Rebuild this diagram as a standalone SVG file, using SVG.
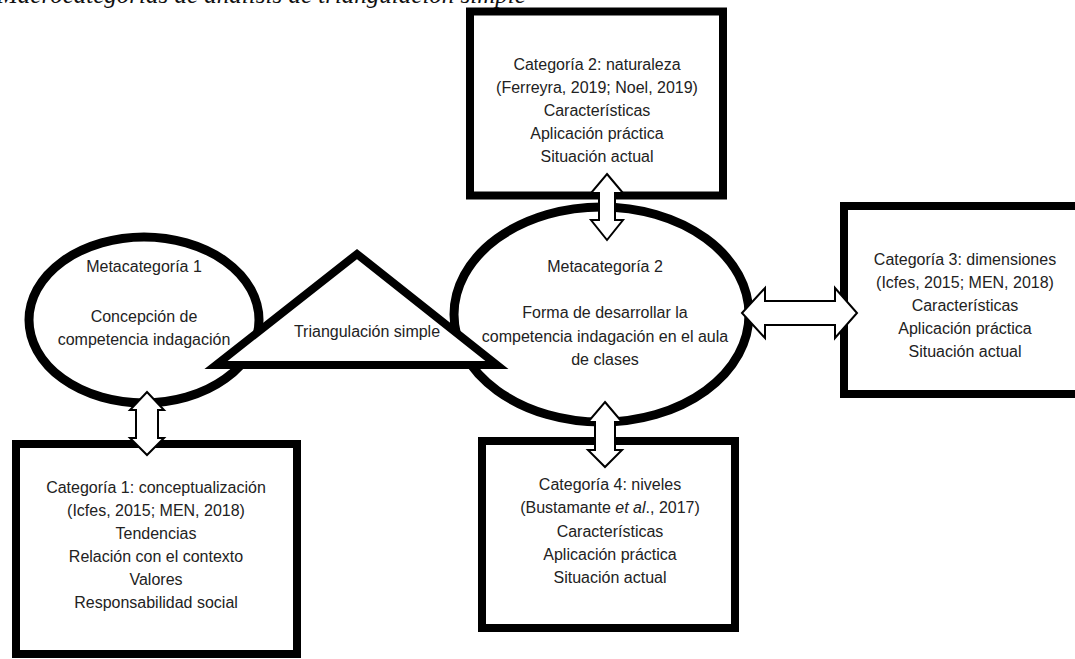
<svg xmlns="http://www.w3.org/2000/svg" width="1075" height="659" viewBox="0 0 1075 659">
<style>
.box{fill:#fff;stroke:#000;stroke-width:8}
.ell{fill:#fff;stroke:#000;stroke-width:9}
.tri{fill:#fff;stroke:#000;stroke-width:8;stroke-linejoin:miter}
.t{font-family:"Liberation Sans",Arial,sans-serif;font-size:16px;fill:#222;text-anchor:middle}
.arr{fill:#fff;stroke:#000;stroke-width:2;stroke-linejoin:miter}
.title{font-family:"Liberation Serif","Times New Roman",serif;font-style:italic;font-size:25px;fill:#111}
</style>
<rect width="1075" height="659" fill="#fff"/>
<text class="title" x="-3" y="3">Macrocategorías de análisis de triangulación simple</text>

<g id="cat2">
<rect class="box" x="470" y="11.5" width="253" height="184"/>
<text class="t" x="597" y="70">Categoría 2: naturaleza</text>
<text class="t" x="597" y="93">(Ferreyra, 2019; Noel, 2019)</text>
<text class="t" x="597" y="116">Características</text>
<text class="t" x="597" y="139">Aplicación práctica</text>
<text class="t" x="597" y="162">Situación actual</text>
</g>

<g id="cat3">
<rect class="box" x="844" y="206" width="245" height="188"/>
<text class="t" x="965" y="265">Categoría 3: dimensiones</text>
<text class="t" x="965" y="288">(Icfes, 2015; MEN, 2018)</text>
<text class="t" x="965" y="311">Características</text>
<text class="t" x="965" y="334">Aplicación práctica</text>
<text class="t" x="965" y="357">Situación actual</text>
</g>

<g id="cat1">
<rect class="box" x="16" y="444" width="281" height="210"/>
<text class="t" x="156" y="493">Categoría 1: conceptualización</text>
<text class="t" x="156" y="516">(Icfes, 2015; MEN, 2018)</text>
<text class="t" x="156" y="539">Tendencias</text>
<text class="t" x="156" y="562">Relación con el contexto</text>
<text class="t" x="156" y="585">Valores</text>
<text class="t" x="156" y="608">Responsabilidad social</text>
</g>

<g id="cat4">
<rect class="box" x="482" y="441" width="253" height="187"/>
<text class="t" x="610" y="490">Categoría 4: niveles</text>
<text class="t" x="610" y="513">(Bustamante <tspan font-style="italic">et al</tspan>., 2017)</text>
<text class="t" x="610" y="537">Características</text>
<text class="t" x="610" y="560">Aplicación práctica</text>
<text class="t" x="610" y="583">Situación actual</text>
</g>

<g id="meta1">
<ellipse class="ell" cx="144" cy="320" rx="115" ry="83"/>
<text class="t" x="144" y="272">Metacategoría 1</text>
<text class="t" x="144" y="322">Concepción de</text>
<text class="t" x="144" y="345">competencia indagación</text>
</g>

<g id="meta2">
<ellipse class="ell" cx="601.5" cy="314.5" rx="147.5" ry="107.5"/>
<text class="t" x="605" y="272">Metacategoría 2</text>
<text class="t" x="605" y="318">Forma de desarrollar la</text>
<text class="t" x="605" y="342">competencia indagación en el aula</text>
<text class="t" x="605" y="365">de clases</text>
</g>

<g id="triangulacion">
<polygon class="tri" points="216,365 497,365 357,254"/>
<text class="t" x="367" y="337">Triangulación simple</text>
</g>

<g id="connectors">
<polygon class="arr" points="147,392 164,410 158,410 158,438 164,438 147,455 130,438 136,438 136,410 130,410"/>
<polygon class="arr" points="607,174 623,193 615,193 615,220 623,220 607,240 591,220 599,220 599,193 591,193"/>
<polygon class="arr" points="742,313 765,288 765,301 835,301 835,288 857,313 835,338 835,325 765,325 765,338"/>
<polygon class="arr" points="605,402 622,422 615,422 615,450 622,450 605,467 588,450 595,450 595,422 588,422"/>
</g>
</svg>
